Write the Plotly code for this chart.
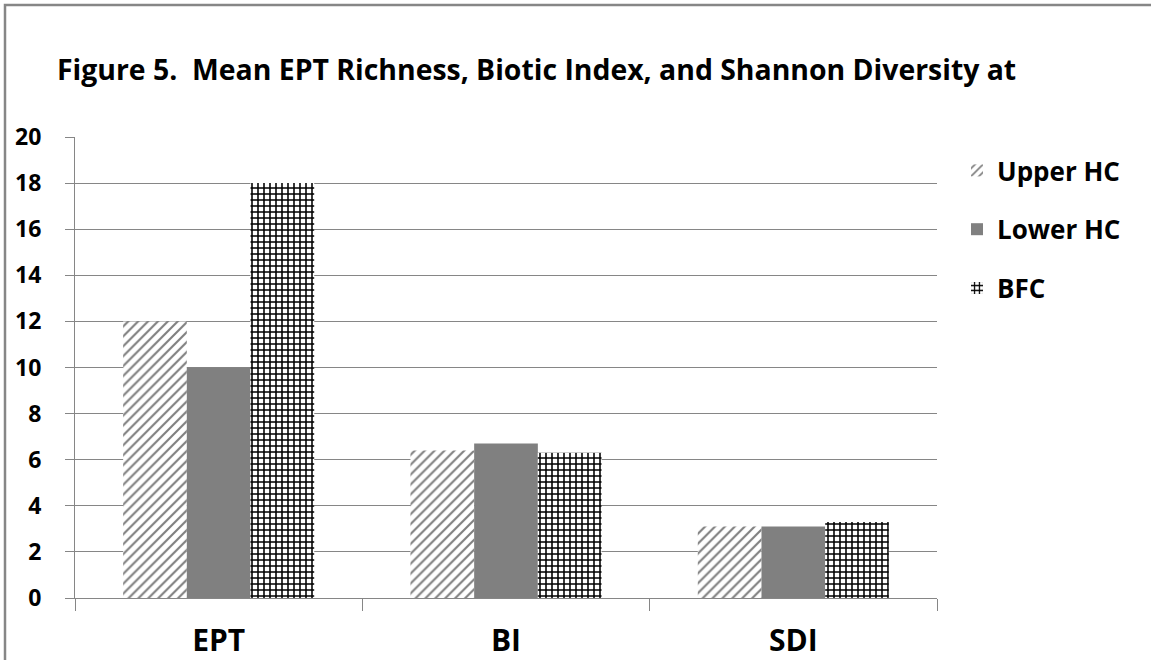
import plotly.graph_objects as go

categories = ["EPT", "BI", "SDI"]
series_names = ["Upper HC", "Lower HC", "BFC"]
upper_hc = [12.0, 6.4, 3.1]
lower_hc = [10.0, 6.7, 3.1]
bfc = [18.0, 6.3, 3.3]
y_ticks = [0, 2, 4, 6, 8, 10, 12, 14, 16, 18, 20]

FONT = "Open Sans"
W, H = 1151, 660
L, R, T, B = 75, 214, 137, 62
PW, PH = W - L - R, H - T - B

fig = go.Figure()
fig.add_bar(name="<b>" + series_names[0] + "</b>", x=categories, y=upper_hc, legendgroup="a",
            marker=dict(color="white", line=dict(width=0),
                        pattern=dict(shape="/", fgcolor="#7f7f7f", bgcolor="white",
                                     size=7, solidity=0.3, fillmode="replace")))
fig.add_bar(name="<b>" + series_names[1] + "</b>", x=categories, y=lower_hc, legendgroup="b",
            marker=dict(color="#808080", line=dict(width=0)))
fig.add_bar(name="<b>" + series_names[2] + "</b>", x=categories, y=bfc, legendgroup="c",
            marker=dict(color="white", line=dict(width=0),
                        pattern=dict(shape="+", fgcolor="black", bgcolor="white",
                                     size=6, solidity=0.45, fillmode="replace")))

fig.update_layout(
    width=W, height=H,
    margin=dict(l=L, r=R, t=T, b=B, autoexpand=False),
    paper_bgcolor="white", plot_bgcolor="white",
    barmode="group", bargap=0.335, bargroupgap=0,
    title=dict(text="<b>Figure 5.  Mean EPT Richness, Biotic Index, and Shannon Diversity at</b>",
               x=57 / W, xanchor="left", y=1 - 70 / H, yanchor="middle",
               font=dict(family=FONT, size=28.4, color="black")),
    legend=dict(x=(957 - L) / PW, y=1 - (147 - T) / PH, xanchor="left", yanchor="top",
                font=dict(family=FONT, size=26, color="black"),
                tracegroupgap=22, itemwidth=30, bgcolor="rgba(0,0,0,0)"),
    font=dict(family=FONT, color="black"),
    showlegend=True,
)
fig.update_yaxes(range=[0, 20], tickvals=y_ticks,
                 ticktext=["<b>%d</b>" % v for v in y_ticks],
                 showgrid=True, gridcolor="#868686",
                 gridwidth=1, showline=True, linecolor="#868686", linewidth=1,
                 ticks="outside", ticklen=9, tickcolor="#868686", zeroline=False,
                 tickfont=dict(family=FONT, size=23, color="black"),
                 ticklabelstandoff=19, fixedrange=True, automargin=False)
fig.update_xaxes(showline=True, linecolor="#868686", linewidth=1, ticks="outside",
                 tickson="boundaries", ticklen=12, tickcolor="#868686",
                 tickvals=categories, ticktext=["<b>%s</b>" % c for c in categories],
                 tickfont=dict(family=FONT, size=30, color="black"),
                 ticklabelstandoff=16, automargin=False, fixedrange=True)

# outer chart-area border (left and top edges visible)
fig.add_shape(type="rect", xref="paper", yref="paper",
              x0=(5 - L) / PW, x1=(1200 - L) / PW, y0=-0.5, y1=1 + (T - 5) / PH,
              line=dict(color="#868686", width=2.5), fillcolor="rgba(0,0,0,0)", layer="below")

fig.write_html("out.html", config={"displayModeBar": False},
               post_script="document.body.style.margin='0';")
